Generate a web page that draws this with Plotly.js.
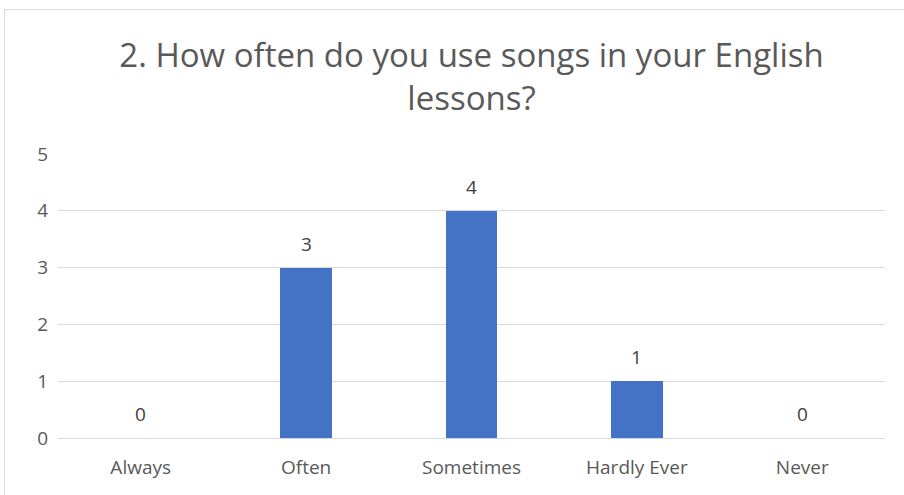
<!DOCTYPE html>
<html>
<head>
<meta charset="utf-8">
<script src="https://cdn.plot.ly/plotly-3.0.1.min.js"></script>
<style>
html,body{margin:0;padding:0;background:#fff;}
#wrap{position:relative;width:904px;height:495px;}
#chart{position:absolute;left:0;top:0;width:904px;height:495px;}
#frame{position:absolute;left:4px;top:9px;width:905px;height:495px;border-left:1px solid #d9d9d9;border-top:1px solid #d9d9d9;pointer-events:none;}
</style>
</head>
<body>
<div id="wrap"><div id="chart"></div><div id="frame"></div></div>
<script>
const categories = ["Always", "Often", "Sometimes", "Hardly Ever", "Never"];
const counts = [0, 3, 4, 1, 0];
const yTicks = [0, 1, 2, 3, 4, 5];
const titleText = "2. How often do you use songs in your English<br>lessons?";

const font = "Open Sans, Liberation Sans, sans-serif";
const trace = {
  type: "bar",
  x: categories,
  y: counts,
  marker: {color: "#4472c4"},
  width: 0.313,
  hoverinfo: "skip"
};
const labels = categories.map((c, i) => ({
  x: c, y: counts[i], xref: "x", yref: "y",
  text: String(counts[i]),
  showarrow: false,
  yanchor: "middle", xanchor: "center",
  yshift: 24,
  font: {family: font, size: 19, color: "#404040"}
}));
const layout = {
  width: 904, height: 495,
  paper_bgcolor: "#ffffff", plot_bgcolor: "#ffffff",
  margin: {l: 58, r: 19, t: 154, b: 57},
  showlegend: false,
  annotations: labels,
  title: {
    text: titleText,
    font: {family: font, size: 33, color: "#595959"},
    x: 0.5, xanchor: "center", xref: "paper",
    y: 1 - 67/495, yanchor: "top", yref: "container"
  },
  xaxis: {
    type: "category",
    showgrid: false, zeroline: false,
    showline: false,
    ticks: "",
    tickfont: {family: font, size: 19, color: "#595959"},
    ticklabelstandoff: 16
  },
  yaxis: {
    range: [0, 5],
    tickvals: yTicks,
    ticktext: yTicks.map(String),
    showgrid: true, gridcolor: "#d9d9d9", gridwidth: 1,
    zeroline: true, zerolinecolor: "#d9d9d9", zerolinewidth: 1,
    showline: false, ticks: "",
    tickfont: {family: font, size: 19, color: "#595959"},
    ticklabelstandoff: 9
  },
  bargap: 0
};
Plotly.newPlot("chart", [trace], layout, {staticPlot: true, displayModeBar: false});
</script>
</body>
</html>
